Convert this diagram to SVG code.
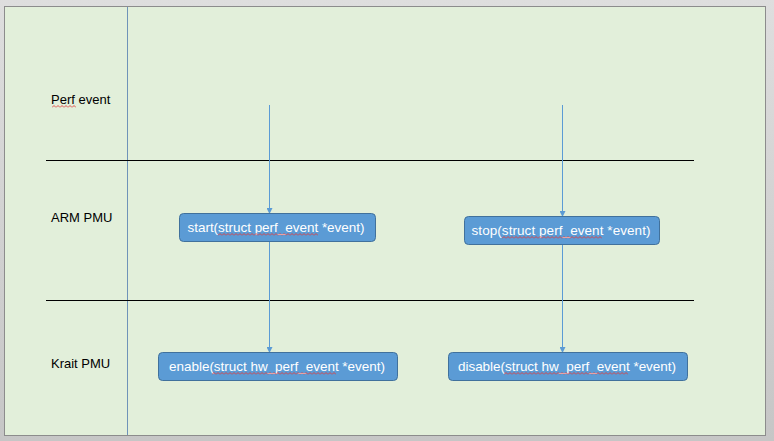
<svg xmlns="http://www.w3.org/2000/svg" width="774" height="441" viewBox="0 0 774 441">
<defs>
<marker id="ah" markerWidth="6" markerHeight="6" refX="5" refY="3" orient="auto" markerUnits="userSpaceOnUse">
<path d="M0,0 L6,3 L0,6 Z" fill="#5b9bd5"/>
</marker>
<linearGradient id="bg" x1="0" y1="0" x2="0" y2="1">
<stop offset="0" stop-color="#dedede"/>
<stop offset="1" stop-color="#c6c6c6"/>
</linearGradient>
<pattern id="wave" width="4" height="3" patternUnits="userSpaceOnUse">
<path d="M0,2.5 L2,0.5 L4,2.5" fill="none" stroke="#e03c3c" stroke-width="0.9"/>
</pattern>
</defs>
<style>
.lbl{font-family:"Liberation Sans",Arial,sans-serif;font-size:13px;fill:#000}
.box{fill:#5b9bd5;stroke:#41719c;stroke-width:1}
.bt{font-family:"Liberation Sans",Arial,sans-serif;font-size:13.5px;fill:#fff;text-anchor:middle;dominant-baseline:central}
.sep{stroke:#000;stroke-width:1}
.conn{stroke:#5b9bd5;stroke-width:1;fill:none}
.sq{fill:url(#wave)}
</style>
<rect x="0" y="0" width="774" height="441" fill="url(#bg)"/>
<rect x="4.5" y="6.5" width="761" height="429" fill="#e2efda" stroke="#8c8c8c" stroke-width="1"/>
<line x1="127.5" y1="7" x2="127.5" y2="435" stroke="#6f93b8" stroke-width="1"/>
<line class="sep" x1="46" y1="160.5" x2="694" y2="160.5"/>
<line class="sep" x1="46" y1="300.5" x2="694" y2="300.5"/>
<g id="lanes">
<text class="lbl" x="51" y="104">Perf event</text>
<text class="lbl" x="51" y="222">ARM PMU</text>
<text class="lbl" x="51" y="368">Krait PMU</text>
<rect class="sq" transform="translate(52,105)" width="24" height="3"/>
</g>
<g id="connectors">
<line class="conn" x1="269.5" y1="105" x2="269.5" y2="213" marker-end="url(#ah)"/>
<line class="conn" x1="269.5" y1="242" x2="269.5" y2="352" marker-end="url(#ah)"/>
<line class="conn" x1="562.5" y1="105" x2="562.5" y2="216" marker-end="url(#ah)"/>
<line class="conn" x1="562.5" y1="245" x2="562.5" y2="352" marker-end="url(#ah)"/>
</g>
<g id="start">
<rect class="box" x="179.5" y="213.5" width="196" height="28" rx="4"/>
<text class="bt" x="276" y="227.5" textLength="177" lengthAdjust="spacing">start(struct perf_event *event)</text>
<rect class="sq" transform="translate(218,233)" width="100" height="3"/>
</g>
<g id="stop">
<rect class="box" x="464.5" y="216.5" width="195" height="28" rx="4"/>
<text class="bt" x="561" y="230.5" textLength="179" lengthAdjust="spacing">stop(struct perf_event *event)</text>
<rect class="sq" transform="translate(502,236)" width="100" height="3"/>
</g>
<g id="enable">
<rect class="box" x="158.5" y="352.5" width="239" height="28" rx="4"/>
<text class="bt" x="277" y="366.5" textLength="216" lengthAdjust="spacing">enable(struct hw_perf_event *event)</text>
<rect class="sq" transform="translate(212,372)" width="124" height="3"/>
</g>
<g id="disable">
<rect class="box" x="448.5" y="352.5" width="239" height="28" rx="4"/>
<text class="bt" x="567" y="366.5" textLength="218" lengthAdjust="spacing">disable(struct hw_perf_event *event)</text>
<rect class="sq" transform="translate(504,372)" width="124" height="3"/>
</g>
</svg>
